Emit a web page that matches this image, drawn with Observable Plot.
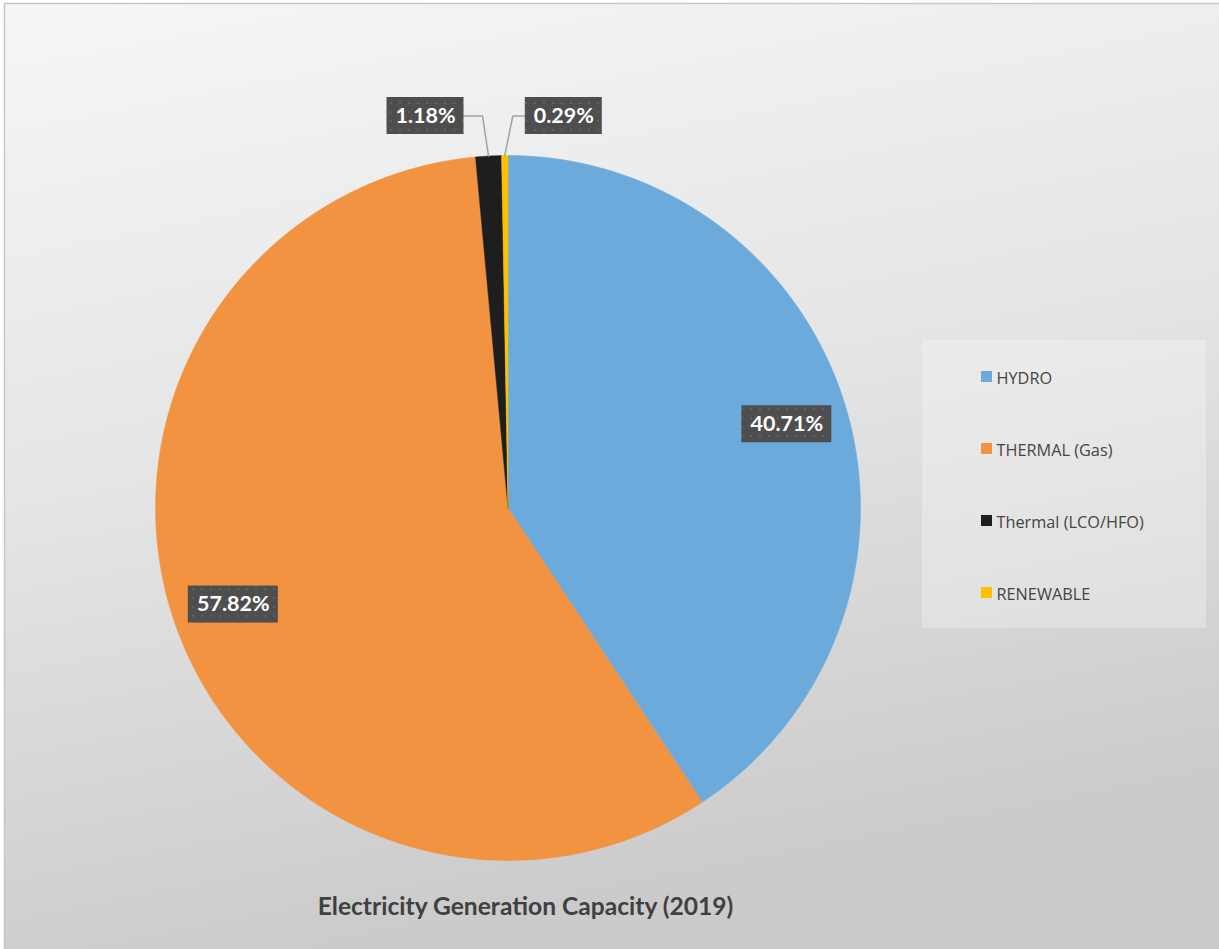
<!DOCTYPE html>
<html><head><meta charset="utf-8">
<script src="https://cdn.jsdelivr.net/npm/d3@7"></script>
<script src="https://cdn.jsdelivr.net/npm/@observablehq/plot@0.6"></script>
<style>html,body{margin:0;padding:0;background:#fff;overflow:hidden}</style>
</head><body><div id="chart"></div>
<script>
// ---- data ----
const categories = ["HYDRO", "THERMAL (Gas)", "Thermal (LCO/HFO)", "RENEWABLE"];
const values = [40.71, 57.82, 1.18, 0.29];
const labels = ["40.71%", "57.82%", "1.18%", "0.29%"];
const colors = ["#6CAADC", "#F29341", "#1E1E1E", "#FFC000"];
const title = "Electricity Generation Capacity (2019)";

// ---- layout ----
const W = 1219, H = 949;
const cx = 507.5, cy = 507.5, R = 352.5;
const calloutDx = [-63, 59];     // horizontal offset of outside labels from their slice edge
const calloutElbow = [-6, 8];
const calloutRise = 39.5;
const boxH = 37;

const total = d3.sum(values);
const pt = (a, r) => ({x: cx + r * Math.sin(a), y: cy - r * Math.cos(a)});

let acc = 0;
const slices = values.map((v, i) => {
  const a0 = acc / total * 2 * Math.PI; acc += v;
  const a1 = acc / total * 2 * Math.PI;
  return {name: categories[i], value: v, label: labels[i], a0, a1, mid: (a0 + a1) / 2};
});

// slice polygons
const sliceRows = [];
for (const s of slices) {
  sliceRows.push({name: s.name, x: cx, y: cy});
  const n = Math.max(2, Math.ceil((s.a1 - s.a0) / (Math.PI / 720)));
  for (let k = 0; k <= n; k++) {
    const p = pt(s.a0 + (s.a1 - s.a0) * k / n, R);
    sliceRows.push({name: s.name, x: p.x, y: p.y});
  }
  sliceRows.push({name: s.name, x: cx, y: cy});
}

// labels
const labelRows = [];
const leaderRows = [];
let oi = 0;
for (const s of slices) {
  const w = 13 * s.label.length + 12;
  let lx, ly;
  if (s.value / total >= 0.05) {
    const p = pt(s.mid, 0.826 * R);
    lx = p.x; ly = p.y;
  } else {
    const a = pt(s.mid, R);
    lx = a.x + calloutDx[oi];
    ly = cy - R - calloutRise;
    const edge = calloutDx[oi] < 0 ? lx + w / 2 : lx - w / 2;
    leaderRows.push({name: s.name, x: a.x, y: a.y});
    leaderRows.push({name: s.name, x: a.x + calloutElbow[oi], y: ly});
    leaderRows.push({name: s.name, x: edge, y: ly});
    oi++;
  }
  labelRows.push({name: s.name, label: s.label, lx, ly, x1: lx - w / 2, x2: lx + w / 2, y1: ly - boxH / 2, y2: ly + boxH / 2});
}

// legend
const legX = 981, legY0 = 376.5, legStep = 72;
const legendRows = categories.map((c, i) => ({name: c, y: legY0 + i * legStep}));

const plot = Plot.plot({
  width: W, height: H,
  margin: 0,
  style: {background: "transparent", overflow: "hidden"},
  x: {domain: [0, W], range: [0, W], axis: null},
  y: {domain: [0, H], range: [0, H], axis: null},
  color: {domain: categories, range: colors},
  marks: [
    Plot.rect([0], {x1: 4.5, x2: W + 4, y1: 3.5, y2: H + 4, fill: "url(#bgGrad)", stroke: "#c6c6c6", strokeWidth: 1.5}),
    Plot.line(sliceRows, {x: "x", y: "y", z: "name", fill: "name", stroke: "name", strokeWidth: 0.5}),
    Plot.line(leaderRows, {x: "x", y: "y", z: "name", stroke: "#a3a3a3", strokeWidth: 1.5}),
    Plot.rect(labelRows, {x1: "x1", x2: "x2", y1: "y1", y2: "y2", fill: "url(#dotPat)", ariaLabel: "label-box"}),
    Plot.text(labelRows, {x: "lx", y: "ly", text: "label", fill: "white", fontWeight: "bold", fontSize: 21.5, fontFamily: "Lato"}),
    Plot.rect([0], {x1: 922, x2: 1206, y1: 340, y2: 628, fill: "#ffffff", fillOpacity: 0.28}),
    Plot.rect(legendRows, {x1: legX, x2: legX + 11, y1: d => d.y - 5.5, y2: d => d.y + 5.5, fill: "name"}),
    Plot.text(legendRows, {x: legX + 15, y: d => d.y + 2, text: "name", textAnchor: "start", fill: "#454545", fontSize: 16.3, fontFamily: "Open Sans"}),
    Plot.text([title], {x: 525, y: 907, text: d => d, fill: "#404040", fontWeight: "bold", fontSize: 24.6, fontFamily: "Lato"})
  ]
});

const svg = d3.select(plot);
const defs = svg.insert("defs", ":first-child");
const g = defs.append("linearGradient").attr("id", "bgGrad")
  .attr("x1", 0).attr("y1", 0).attr("x2", 0.25).attr("y2", 1);
g.append("stop").attr("offset", 0).attr("stop-color", "#f6f6f6");
g.append("stop").attr("offset", 0.5).attr("stop-color", "#e5e5e5");
g.append("stop").attr("offset", 1).attr("stop-color", "#cbcbcb");
const pat = defs.append("pattern").attr("id", "dotPat").attr("patternUnits", "userSpaceOnUse")
  .attr("width", 9).attr("height", 9);
pat.append("rect").attr("width", 9).attr("height", 9).attr("fill", "#4e4e4e");
pat.append("rect").attr("x", 3).attr("y", 3).attr("width", 2).attr("height", 2).attr("fill", "#616161");
const f = defs.append("filter").attr("id", "shadow").attr("x", "-20%").attr("y", "-30%").attr("width", "150%").attr("height", "180%");
f.append("feDropShadow").attr("dx", 3).attr("dy", 4).attr("stdDeviation", 2.5)
  .attr("flood-color", "#000").attr("flood-opacity", 0.45);
svg.select('g[aria-label="label-box"]').attr("filter", "url(#shadow)");

document.getElementById("chart").appendChild(plot);
</script>
</body></html>
